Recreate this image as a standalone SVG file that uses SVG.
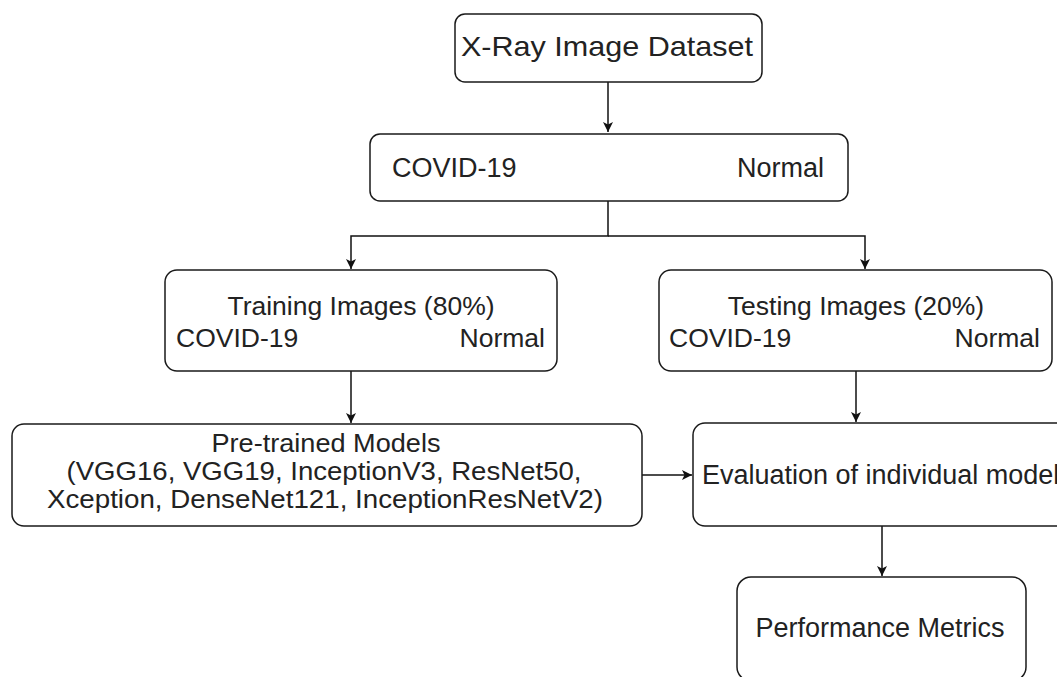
<svg xmlns="http://www.w3.org/2000/svg" width="1057" height="677" viewBox="0 0 1057 677">
  <defs>
    <marker id="arr" markerWidth="12" markerHeight="12" refX="10" refY="5" orient="auto" markerUnits="userSpaceOnUse" viewBox="0 0 12 10">
      <path d="M0,0 L10,5 L0,10 L2.5,5 z" fill="#111"/>
    </marker>
    <style>
      .box { fill: #ffffff; stroke: #1a1a1a; stroke-width: 1.5; }
      .t { font-family: "Liberation Sans", Arial, sans-serif; fill: #222222; }
      .c { stroke: #111111; stroke-width: 1.5; fill: none; }
    </style>
  </defs>
  <rect width="1057" height="677" fill="#ffffff"/>

  <g id="connectors">
    <path class="c" d="M608,82 L608,132" marker-end="url(#arr)"/>
    <path class="c" d="M608,201 L608,236 L351,236 L351,269" marker-end="url(#arr)"/>
    <path class="c" d="M608,236 L865,236 L865,269" marker-end="url(#arr)"/>
    <path class="c" d="M351,371 L351,423" marker-end="url(#arr)"/>
    <path class="c" d="M856,371 L856,422" marker-end="url(#arr)"/>
    <path class="c" d="M642,475 L692,475" marker-end="url(#arr)"/>
    <path class="c" d="M882,526 L882,576" marker-end="url(#arr)"/>
  </g>

  <g id="dataset">
    <rect class="box" x="455" y="14" width="307" height="68" rx="10"/>
    <text class="t" x="607" y="56" font-size="28" text-anchor="middle" textLength="292" lengthAdjust="spacingAndGlyphs">X-Ray Image Dataset</text>
  </g>

  <g id="classes">
    <rect class="box" x="370" y="134" width="478" height="67" rx="10"/>
    <text class="t" x="392" y="177" font-size="27">COVID-19</text>
    <text class="t" x="824" y="177" font-size="27" text-anchor="end">Normal</text>
  </g>

  <g id="training">
    <rect class="box" x="165" y="270" width="392" height="101" rx="12"/>
    <text class="t" x="361" y="315" font-size="26.5" text-anchor="middle">Training Images (80%)</text>
    <text class="t" x="176" y="347" font-size="26.5">COVID-19</text>
    <text class="t" x="545" y="347" font-size="26.5" text-anchor="end">Normal</text>
  </g>

  <g id="testing">
    <rect class="box" x="659" y="270" width="393" height="101" rx="12"/>
    <text class="t" x="856" y="315" font-size="26.5" text-anchor="middle">Testing Images (20%)</text>
    <text class="t" x="669" y="347" font-size="26.5">COVID-19</text>
    <text class="t" x="1040" y="347" font-size="26.5" text-anchor="end">Normal</text>
  </g>

  <g id="pretrained">
    <rect class="box" x="12" y="424" width="630" height="102" rx="12"/>
    <text class="t" x="326" y="452" font-size="25" text-anchor="middle" textLength="229" lengthAdjust="spacingAndGlyphs">Pre-trained Models</text>
    <text class="t" x="324" y="480" font-size="25" text-anchor="middle" textLength="515" lengthAdjust="spacingAndGlyphs">(VGG16, VGG19, InceptionV3, ResNet50,</text>
    <text class="t" x="325" y="508" font-size="25" text-anchor="middle" textLength="556" lengthAdjust="spacingAndGlyphs">Xception, DenseNet121, InceptionResNetV2)</text>
  </g>

  <g id="evaluation">
    <rect class="box" x="693" y="423" width="420" height="103" rx="12"/>
    <text class="t" x="702" y="484" font-size="27">Evaluation of individual model</text>
  </g>

  <g id="metrics">
    <rect class="box" x="737" y="577" width="289" height="104" rx="14"/>
    <text class="t" x="880" y="637" font-size="27" text-anchor="middle">Performance Metrics</text>
  </g>
</svg>
